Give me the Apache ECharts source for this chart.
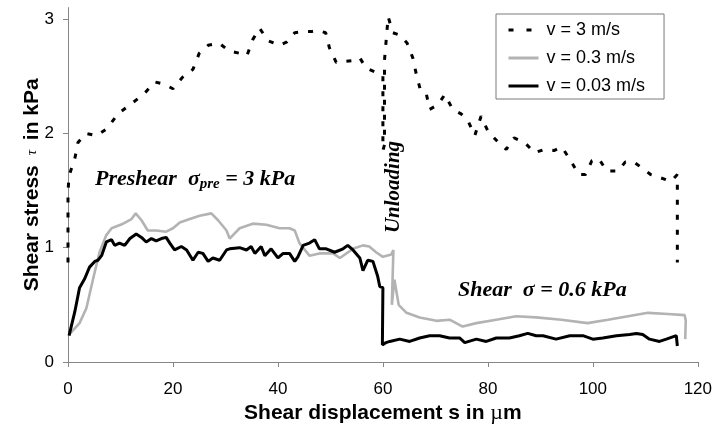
<!DOCTYPE html>
<html>
<head>
<meta charset="utf-8">
<script src="https://cdn.jsdelivr.net/npm/echarts@6/dist/echarts.min.js"></script>
<style>
  html, body { margin: 0; padding: 0; background: #fff; }
  #chart { width: 715px; height: 429px; }
</style>
</head>
<body>
<div id="chart"></div>
<script>
// Axis ticks
const xTicks = [0, 20, 40, 60, 80, 100, 120];
const yTicks = [0, 1, 2, 3];
const yTop = 3.1;

// Series names
const seriesNames = ['v = 3 m/s', 'v = 0.3 m/s', 'v = 0.03 m/s'];

// v = 3 m/s  (shear displacement in µm, shear stress in kPa)
const fastX = [0, 0, 0.2, 1.3, 1.9, 3.4, 5.4, 7.4, 9.5, 12.1, 14.6, 16.5, 18.3, 20, 21.8, 23.8, 25, 26.7, 28.8, 30.7,
  32.7, 34.1, 35.2, 36.5, 38.1, 40.3, 41.7, 43.2, 44.8, 46.4, 47.6, 49.1, 49.8, 51.1, 53, 54.9, 55.6, 56.8, 58.4, 60,
  60, 60.3, 60.3, 61, 61.9, 63.2, 64.6, 65.7, 66.4, 67.2, 68.3, 68.9, 70.5, 71.8, 73.3, 74.9, 76.2, 77.5, 78.7, 80,
  81.8, 83.5, 85, 87, 88.9, 90.8, 92.6, 94.1, 95.8, 97.3, 98.6, 99.8, 101.1, 102.7, 104.8, 106.2, 107.8, 109.3, 111, 113,
  114.9, 116.1, 116.1];
const fastY = [0.87, 1.49, 1.63, 1.78, 1.92, 2.0, 1.98, 2.04, 2.17, 2.26, 2.35, 2.45, 2.43, 2.39, 2.49, 2.56, 2.7, 2.77, 2.79, 2.72,
  2.7, 2.68, 2.82, 2.92, 2.81, 2.77, 2.8, 2.88, 2.89, 2.89, 2.9, 2.88, 2.75, 2.62, 2.63, 2.64, 2.66, 2.57, 2.54, 2.5,
  1.85, 1.9, 2.64, 3.02, 2.88, 2.86, 2.79, 2.66, 2.51, 2.37, 2.34, 2.21, 2.25, 2.34, 2.21, 2.17, 2.11, 1.98, 2.15, 2.02,
  1.93, 1.86, 1.96, 1.92, 1.83, 1.86, 1.85, 1.88, 1.76, 1.64, 1.64, 1.76, 1.78, 1.67, 1.67, 1.75, 1.75, 1.7, 1.64, 1.61,
  1.58, 1.64, 0.87];

// v = 0.3 m/s
const midX = [0.2, 1.2, 2.2, 3.5, 4.8, 6, 7.3, 8.3, 10.5, 12.1, 12.9, 14, 15.2, 16.8, 18.7, 20, 21.3, 23.2, 25.1, 27.3,
  28.6, 30.2, 30.8, 32.7, 35.2, 37.8, 40.3, 42.2, 43.2, 44.1, 46, 47.9, 50.5, 51.8, 54.3, 56.2, 57.4, 58.7, 60, 61.6,
  62, 61.7, 62.2, 63, 64.5, 67, 70.2, 72.7, 75.2, 77.8, 81.6, 85.4, 89.2, 94, 99, 102.9, 106.7, 110.5, 114.3, 117.5,
  117.7, 117.6];
const midY = [0.24, 0.29, 0.34, 0.47, 0.73, 0.96, 1.11, 1.17, 1.21, 1.25, 1.3, 1.24, 1.15, 1.15, 1.14, 1.17, 1.22, 1.25, 1.28, 1.3,
  1.24, 1.15, 1.08, 1.17, 1.21, 1.2, 1.17, 1.17, 1.15, 1.04, 0.93, 0.95, 0.95, 0.91, 0.99, 1.02, 1.01, 0.96, 0.92, 0.94,
  0.98, 0.5, 0.72, 0.5, 0.43, 0.39, 0.36, 0.37, 0.31, 0.34, 0.37, 0.4, 0.39, 0.37, 0.34, 0.37, 0.4, 0.43, 0.42, 0.41,
  0.36, 0.2];

// v = 0.03 m/s
const slowX = [0.2, 1.3, 2.2, 3.2, 4.1, 5.1, 5.7, 6.4, 7.3, 8.3, 8.9, 9.8, 10.8, 11.8, 13, 14, 14.9, 15.9, 16.8, 17.8,
  18.7, 19.4, 20.3, 21.6, 22.6, 23.8, 24.8, 25.7, 26.7, 27.6, 28.9, 30.2, 30.8, 32.7, 34, 34.9, 35.6, 36.8, 37.5, 38.7,
  40, 41, 42.2, 43.2, 43.8, 44.8, 46, 47, 47.9, 49.2, 50.8, 52.4, 53.3, 54.3, 55.6, 56.2, 57.1, 58.1, 59, 59.4,
  60, 59.9, 60.6, 61.3, 63.2, 65.1, 67, 68.9, 70.8, 72.7, 74.6, 75.6, 77.8, 79.7, 81.6, 84.1, 86, 87.6, 89.2, 90.5,
  93, 95.6, 98.1, 100, 101.9, 104.5, 107, 108.3, 109.5, 110.8, 112.7, 114, 115.9, 116.1];
const slowY = [0.23, 0.44, 0.65, 0.73, 0.83, 0.88, 0.89, 0.93, 1.05, 1.07, 1.02, 1.04, 1.02, 1.08, 1.12, 1.09, 1.05, 1.08, 1.06, 1.08,
  1.09, 1.04, 0.98, 1.01, 0.98, 0.89, 0.96, 0.95, 0.88, 0.91, 0.89, 0.98, 0.99, 1.0, 0.98, 1.01, 0.95, 1.01, 0.93, 0.99,
  0.91, 0.95, 0.95, 0.88, 0.92, 1.02, 1.04, 1.07, 0.99, 0.99, 0.96, 0.99, 1.02, 0.98, 0.91, 0.8, 0.89, 0.88, 0.75, 0.66,
  0.65, 0.15, 0.17, 0.18, 0.2, 0.18, 0.21, 0.23, 0.23, 0.21, 0.21, 0.17, 0.2, 0.18, 0.21, 0.21, 0.23, 0.25, 0.23, 0.23,
  0.2, 0.23, 0.23, 0.2, 0.21, 0.23, 0.24, 0.25, 0.24, 0.2, 0.18, 0.2, 0.23, 0.14];

const pairs = (xs, ys) => xs.map((x, i) => [x, ys[i]]);

const SANS = '"Liberation Sans", Arial, sans-serif';
const SERIF = '"Liberation Serif", "Times New Roman", serif';
const axisGray = '#868686';

const chart = echarts.init(document.getElementById('chart'), null, { renderer: 'canvas' });

chart.setOption({
  animation: false,
  backgroundColor: '#fff',
  grid: { left: 68, right: 17, top: 7.6, bottom: 64.6, containLabel: false },
  xAxis: {
    type: 'value',
    min: xTicks[0],
    max: xTicks[xTicks.length - 1],
    interval: 20,
    axisLine: { lineStyle: { color: axisGray, width: 1 } },
    axisTick: { show: true, length: 5, lineStyle: { color: axisGray } },
    splitLine: { show: false },
    axisLabel: { color: '#000', fontFamily: SANS, fontSize: 17, margin: 19 },
    name: 'Shear displacement {b|s} in {m|µ}m',
    nameLocation: 'middle',
    nameMoveOverlap: false,
    nameGap: 40,
    nameTextStyle: {
      color: '#000', fontFamily: SANS, fontSize: 21, fontWeight: 'bold', verticalAlign: 'top',
      rich: {
        b: { fontFamily: SANS, fontSize: 21, fontWeight: 'bold', color: '#000' },
        m: { fontFamily: SERIF, fontSize: 22, fontWeight: 'normal', color: '#000' }
      }
    }
  },
  yAxis: {
    type: 'value',
    min: yTicks[0],
    max: yTop,
    interval: 1,
    axisLine: { show: true, lineStyle: { color: axisGray, width: 1 } },
    axisTick: { show: true, length: 5, lineStyle: { color: axisGray }, customValues: yTicks },
    splitLine: { show: false },
    axisLabel: { color: '#000', fontFamily: SANS, fontSize: 17, margin: 14, customValues: yTicks },
    name: 'Shear stress {t|τ} in kPa',
    nameLocation: 'middle',
    nameRotate: 90,
    nameMoveOverlap: false,
    nameGap: 25,
    nameTextStyle: {
      color: '#000', fontFamily: SANS, fontSize: 21, fontWeight: 'bold',
      rich: {
        t: { fontFamily: SERIF, fontStyle: 'italic', fontSize: 15, fontWeight: 'normal', color: '#000', padding: [0, 4, 0, 4] }
      }
    }
  },
  legend: {
    orient: 'vertical',
    left: 496,
    top: 14,
    padding: [6, 19, 3, 11],
    itemGap: 8,
    itemWidth: 30,
    itemHeight: 14,
    backgroundColor: '#fff',
    borderColor: '#7a7a7a',
    borderWidth: 1,
    borderRadius: 0,
    itemStyle: { opacity: 0 },
    lineStyle: { width: 3 },
    textStyle: { color: '#000', fontFamily: SANS, fontSize: 18, lineHeight: 20, padding: [0, 0, 0, 3] },
    data: [
      { name: seriesNames[0], lineStyle: { type: [5, 13] } },
      { name: seriesNames[1] },
      { name: seriesNames[2] }
    ]
  },
  series: [
    {
      name: seriesNames[0],
      type: 'line',
      data: pairs(fastX, fastY),
      symbol: 'none',
      lineStyle: { color: '#000', width: 3, type: [5, 10] },
      itemStyle: { color: '#000' },
      z: 4
    },
    {
      name: seriesNames[1],
      type: 'line',
      data: pairs(midX, midY),
      symbol: 'none',
      lineStyle: { color: '#b3b3b3', width: 2.6 },
      itemStyle: { color: '#b3b3b3' },
      z: 2
    },
    {
      name: seriesNames[2],
      type: 'line',
      data: pairs(slowX, slowY),
      symbol: 'none',
      lineStyle: { color: '#000', width: 3 },
      itemStyle: { color: '#000' },
      z: 3
    }
  ],
  graphic: [
    {
      type: 'text',
      x: 95, y: 179,
      style: {
        text: 'Preshear  σ{s|pre} = 3 kPa',
        font: 'italic bold 22px ' + SERIF,
        fill: '#000',
        verticalAlign: 'middle',
        rich: { s: { font: 'italic bold 15px ' + SERIF, padding: [10, 0, 0, 0] } }
      },
      z: 10
    },
    {
      type: 'text',
      x: 458, y: 290,
      style: {
        text: 'Shear  σ = 0.6 kPa',
        font: 'italic bold 22px ' + SERIF,
        fill: '#000',
        verticalAlign: 'middle'
      },
      z: 10
    },
    {
      type: 'text',
      x: 394, y: 187,
      rotation: Math.PI / 2,
      style: {
        text: 'Unloading',
        font: 'italic bold 21px ' + SERIF,
        fill: '#000',
        align: 'center',
        verticalAlign: 'middle'
      },
      z: 10
    }
  ]
});
</script>
</body>
</html>
